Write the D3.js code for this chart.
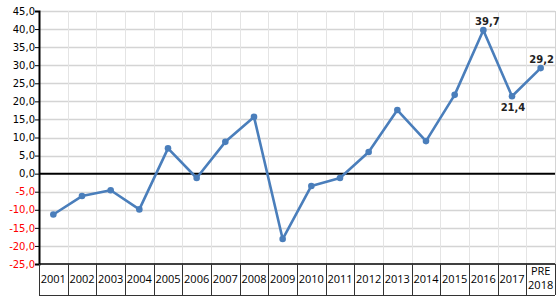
<!DOCTYPE html>
<html>
<head>
<meta charset="utf-8">
<script src="https://d3js.org/d3.v7.min.js"></script>
<style>
body{margin:0;background:#fff;}
svg{display:block;}
.ylab{font-family:"DejaVu Sans",Verdana,sans-serif;font-size:10px;}
.xlab{font-family:"Open Sans","Liberation Sans",sans-serif;font-size:11px;fill:#000;}
.dlab{font-family:"DejaVu Sans",Verdana,sans-serif;font-size:10px;font-weight:bold;fill:#222;}
</style>
</head>
<body>
<div id="chart"></div>
<script>
// data
const years = ["2001","2002","2003","2004","2005","2006","2007","2008","2009","2010","2011","2012","2013","2014","2015","2016","2017","PRE 2018"];
const values = [-11.3,-6.2,-4.6,-9.9,7.0,-1.2,8.8,15.7,-18.1,-3.4,-1.2,6.0,17.6,9.0,21.8,39.7,21.4,29.2];
const yTicks = [45,40,35,30,25,20,15,10,5,0,-5,-10,-15,-20,-25];
const labelled = {"2016":"39,7","2017":"21,4","PRE 2018":"29,2"};

const width = 560, height = 300;
const plotLeft = 39, plotRight = 555, plotTop = 11, plotBottom = 264, tableBottom = 295;

const svg = d3.select("#chart").append("svg")
  .attr("width", width).attr("height", height);

const x = d3.scaleBand().domain(years).range([plotLeft, plotRight]).padding(0);
const y = d3.scaleLinear().domain([-25, 45]).range([plotBottom, plotTop]);
const fmt = v => d3.format(".1f")(v).replace(".", ",").replace("−", "-");

// horizontal grid
svg.append("g").selectAll("line").data(yTicks.filter(d => d !== 0 && d !== -25)).join("line")
  .attr("x1", plotLeft).attr("x2", plotRight)
  .attr("y1", d => Math.round(y(d)) + 0.5).attr("y2", d => Math.round(y(d)) + 0.5)
  .attr("stroke", "#d4d4d4").attr("stroke-width", 1.3);

// vertical grid
svg.append("g").selectAll("line").data(years.slice(1)).join("line")
  .attr("x1", d => Math.round(x(d)) + 0.5).attr("x2", d => Math.round(x(d)) + 0.5)
  .attr("y1", plotTop).attr("y2", plotBottom)
  .attr("stroke", "#e4e4e4").attr("stroke-width", 1);
svg.append("line")
  .attr("x1", plotRight + 0.5).attr("x2", plotRight + 0.5).attr("y1", plotTop).attr("y2", plotBottom)
  .attr("stroke", "#d4d4d4");

// y axis
const yAxis = svg.append("g")
  .attr("transform", "translate(" + plotLeft + ",0)")
  .call(d3.axisLeft(y).tickValues(yTicks).tickSize(4).tickFormat(fmt));
yAxis.select(".domain").attr("stroke", "#000").attr("stroke-width", 2);
yAxis.selectAll(".tick line").attr("stroke", "#000");
yAxis.selectAll(".tick text")
  .attr("class", "ylab")
  .attr("x", -4)
  .attr("fill", d => d < 0 ? "#ff0000" : "#000");

// zero line
svg.append("line")
  .attr("x1", plotLeft).attr("x2", plotRight)
  .attr("y1", y(0)).attr("y2", y(0))
  .attr("stroke", "#000").attr("stroke-width", 2);

// category table
const table = svg.append("g");
table.append("line").attr("x1", plotLeft).attr("x2", plotRight).attr("y1", plotBottom).attr("y2", plotBottom)
  .attr("stroke", "#000").attr("stroke-width", 1.5);
table.append("line").attr("x1", plotLeft).attr("x2", plotRight).attr("y1", tableBottom + 0.5).attr("y2", tableBottom + 0.5)
  .attr("stroke", "#333").attr("stroke-width", 1);
table.selectAll("line.sep").data(years.concat(["end"])).join("line")
  .attr("class", "sep")
  .attr("x1", d => d === "end" ? plotRight + 0.5 : Math.round(x(d)) + 0.5)
  .attr("x2", d => d === "end" ? plotRight + 0.5 : Math.round(x(d)) + 0.5)
  .attr("y1", plotBottom).attr("y2", tableBottom)
  .attr("stroke", "#333").attr("stroke-width", 1);
const xt = table.selectAll("text").data(years).join("text")
  .attr("class", "xlab")
  .attr("text-anchor", "middle")
  .attr("x", d => x(d) + x.bandwidth() / 2);
xt.each(function(d) {
  const parts = d.split(" ");
  const t = d3.select(this);
  if (parts.length === 1) {
    t.attr("y", 283).text(d);
  } else {
    t.attr("y", 275).attr("font-size", "10px");
    parts.forEach((p, i) => t.append("tspan")
      .attr("x", x(d) + x.bandwidth() / 2).attr("dy", i ? 14 : 0).text(p));
  }
});

// line + markers
const cx = d => x(d) + x.bandwidth() / 2;
const pts = years.map((d, i) => ({year: d, value: values[i]}));
svg.append("path").datum(pts)
  .attr("fill", "none").attr("stroke", "#4a7ebb").attr("stroke-width", 2.6)
  .attr("stroke-linejoin", "round")
  .attr("d", d3.line().x(d => cx(d.year)).y(d => y(d.value)));
svg.append("g").selectAll("circle").data(pts).join("circle")
  .attr("cx", d => cx(d.year)).attr("cy", d => y(d.value)).attr("r", 3.3)
  .attr("fill", "#4a7ebb");

// data labels
svg.append("g").selectAll("text").data(pts.filter(d => labelled[d.year])).join("text")
  .attr("class", "dlab")
  .attr("text-anchor", "middle")
  .attr("x", d => cx(d.year) + (d.year === "2016" ? 4 : 1))
  .attr("y", d => d.year === "2017" ? y(d.value) + 15 : y(d.value) - 5)
  .text(d => labelled[d.year]);
</script>
</body>
</html>
